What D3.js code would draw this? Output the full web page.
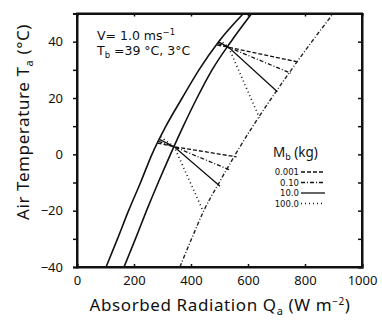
<!DOCTYPE html>
<html><head><meta charset="utf-8">
<script src="https://cdn.jsdelivr.net/npm/d3@7"></script>
<style>
body{margin:0;background:#fff;}
svg{display:block;}
text{font-family:"Noto Sans",sans-serif;fill:#111;}
</style></head>
<body>
<script>
// Air temperature grid (°C) for the three boundary curves
const curveTa = [-40, -30, -20, -10, 0, 10, 20, 30, 40, 50];
// Absorbed radiation (W m^-2) for each boundary curve
const leftCurveQ  = [102, 142, 181, 223, 263, 312, 369, 428, 497, 584];
const midCurveQ   = [165, 205, 244, 285, 328, 373, 421, 474, 540, 613];
const rightCurveQ = [361, 402, 445, 499, 556, 617, 683, 752, 824, 899];

// Body mass classes
const masses = ["0.001", "0.10", "10.0", "100.0"];
const massStyles = ["4,2", "4,2,1,2", null, "1,3"];

// Fan lines for Tb = 3 °C: start on left curve, junction, end on right curve
const lowStartQ  = [283, 286, 289, 293];
const lowStartTa = [4.0, 4.6, 5.3, 6.2];
const lowJunction = [341, 2.7];
const lowEndQ  = [560, 537, 502, 441];
const lowEndTa = [-0.9, -5.6, -11.3, -19.8];

// Fan lines for Tb = 39 °C
const highStartQ  = [492, 494, 496, 500];
const highStartTa = [38.8, 39.3, 39.9, 40.6];
const highJunction = [532, 38.0];
const highEndQ  = [771, 750, 703, 640];
const highEndTa = [32.9, 28.8, 22.2, 13.0];

const xTicks = [0, 200, 400, 600, 800, 1000];
const yTicks = [-40, -20, 0, 20, 40];

const W = 382, H = 326;
const m = {left: 77, right: 20, top: 13.5, bottom: 59};
const svg = d3.select("body").append("svg").attr("width", W).attr("height", H);

const x = d3.scaleLinear().domain([0, 1000]).range([m.left, W - m.right]);
const y = d3.scaleLinear().domain([-40, 50]).range([H - m.bottom, m.top]);

const g = svg.append("g");

// axes
const axL = g.append("g").attr("transform", `translate(${m.left},0)`)
  .call(d3.axisLeft(y).tickValues(d3.range(-40, 51, 10)).tickSize(4).tickFormat(d => yTicks.includes(d) ? String(d).replace("-", "−") : ""));
const axB = g.append("g").attr("transform", `translate(0,${H - m.bottom})`)
  .call(d3.axisBottom(x).tickValues(xTicks).tickSize(-3).tickPadding(9).tickFormat(d => d));
const axR = g.append("g").attr("transform", `translate(${W - m.right},0)`)
  .call(d3.axisRight(y).tickValues(d3.range(-40, 51, 10)).tickSize(-4).tickFormat(""));
const axT = g.append("g").attr("transform", `translate(0,${m.top})`)
  .call(d3.axisTop(x).tickValues([200, 400, 600, 800]).tickSize(-3).tickFormat(""));
[axL, axB, axR, axT].forEach(a => {
  a.select(".domain").attr("stroke", "#111").attr("stroke-width", 2);
  a.selectAll(".tick line").attr("stroke", "#111").attr("stroke-width", 1.5);
  a.selectAll("text").attr("font-size", 13).attr("fill", "#111").attr("font-family", "Noto Sans, sans-serif");
});
axL.selectAll("text").attr("x", -14);
// close corners
g.append("rect").attr("x", x(0)).attr("y", y(50)).attr("width", x(1000) - x(0)).attr("height", y(-40) - y(50))
  .attr("fill", "none").attr("stroke", "#111").attr("stroke-width", 2);

const line = d3.line().x(d => x(d[0])).y(d => y(d[1])).curve(d3.curveMonotoneX);
svg.append("clipPath").attr("id", "c").append("rect")
  .attr("x", x(0)).attr("y", y(50)).attr("width", x(1000) - x(0)).attr("height", y(-40) - y(50));
const plot = g.append("g").attr("clip-path", "url(#c)");

[leftCurveQ, midCurveQ].forEach(q => {
  plot.append("path").attr("d", line(q.map((v, i) => [v, curveTa[i]])))
    .attr("fill", "none").attr("stroke", "#111").attr("stroke-width", 1.6);
});
plot.append("path").attr("d", line(rightCurveQ.map((v, i) => [v, curveTa[i]])))
  .attr("fill", "none").attr("stroke", "#222").attr("stroke-width", 1.4).attr("stroke-dasharray", "4,2,1,2");

function fan(sQ, sT, j, eQ, eT) {
  masses.forEach((mm, i) => {
    const pts = [[sQ[i], sT[i]], j, [eQ[i], eT[i]]];
    plot.append("path").attr("d", d3.line().x(d => x(d[0])).y(d => y(d[1]))(pts))
      .attr("fill", "none").attr("stroke", "#111").attr("stroke-width", massStyles[i] === "1,3" ? 1.6 : 1.3)
      .attr("stroke-dasharray", massStyles[i]);
  });
}
fan(lowStartQ, lowStartTa, lowJunction, lowEndQ, lowEndTa);
fan(highStartQ, highStartTa, highJunction, highEndQ, highEndTa);

// annotation
const ann = g.append("text").attr("x", 97).attr("y", 40).attr("font-size", 12.5).style("font-family", "DejaVu Sans, sans-serif");
ann.append("tspan").text("V= 1.0 ms");
ann.append("tspan").attr("dy", -5).attr("font-size", 8.5).text("−1");
const ann2 = g.append("text").attr("x", 97).attr("y", 55).attr("font-size", 12.5).style("font-family", "DejaVu Sans, sans-serif");
ann2.append("tspan").text("T");
ann2.append("tspan").attr("dy", 3).attr("font-size", 8.5).text("b");
ann2.append("tspan").attr("dy", -3).text(" =39 °C, 3°C");

// axis titles
const yl = g.append("text").attr("transform", `translate(29,122) rotate(-90)`)
  .attr("text-anchor", "middle").attr("font-size", 17).attr("letter-spacing", 0.6);
yl.append("tspan").text("Air Temperature T");
yl.append("tspan").attr("dy", 4).attr("font-size", 11).text("a");
yl.append("tspan").attr("dy", -4).text(" (°C)");

const xl = g.append("text").attr("x", 220).attr("y", 311).attr("text-anchor", "middle").attr("font-size", 17).attr("letter-spacing", 0.6);
xl.append("tspan").text("Absorbed Radiation Q");
xl.append("tspan").attr("dy", 4).attr("font-size", 11).text("a");
xl.append("tspan").attr("dy", -4).text(" (W m");
xl.append("tspan").attr("dy", -6).attr("font-size", 10).text("−2");
xl.append("tspan").attr("dy", 6).text(")");

// legend
const lt = g.append("text").attr("x", 273).attr("y", 157).attr("font-size", 13.5);
lt.append("tspan").text("M");
lt.append("tspan").attr("dy", 3).attr("font-size", 9).text("b");
lt.append("tspan").attr("dy", -3).text(" (kg)");
const legY = [172, 182.5, 193, 203.5];
masses.forEach((mm, i) => {
  g.append("text").attr("x", 299).attr("y", legY[i] + 3).attr("text-anchor", "end")
    .attr("font-size", 8.5).style("font-family", "DejaVu Sans, sans-serif").text(mm);
  g.append("line").attr("x1", 301).attr("x2", 325).attr("y1", legY[i]).attr("y2", legY[i])
    .attr("stroke", "#111").attr("stroke-width", massStyles[i] === "1,3" ? 1.6 : 1.3).attr("stroke-dasharray", massStyles[i]);
});
</script>
</body></html>
